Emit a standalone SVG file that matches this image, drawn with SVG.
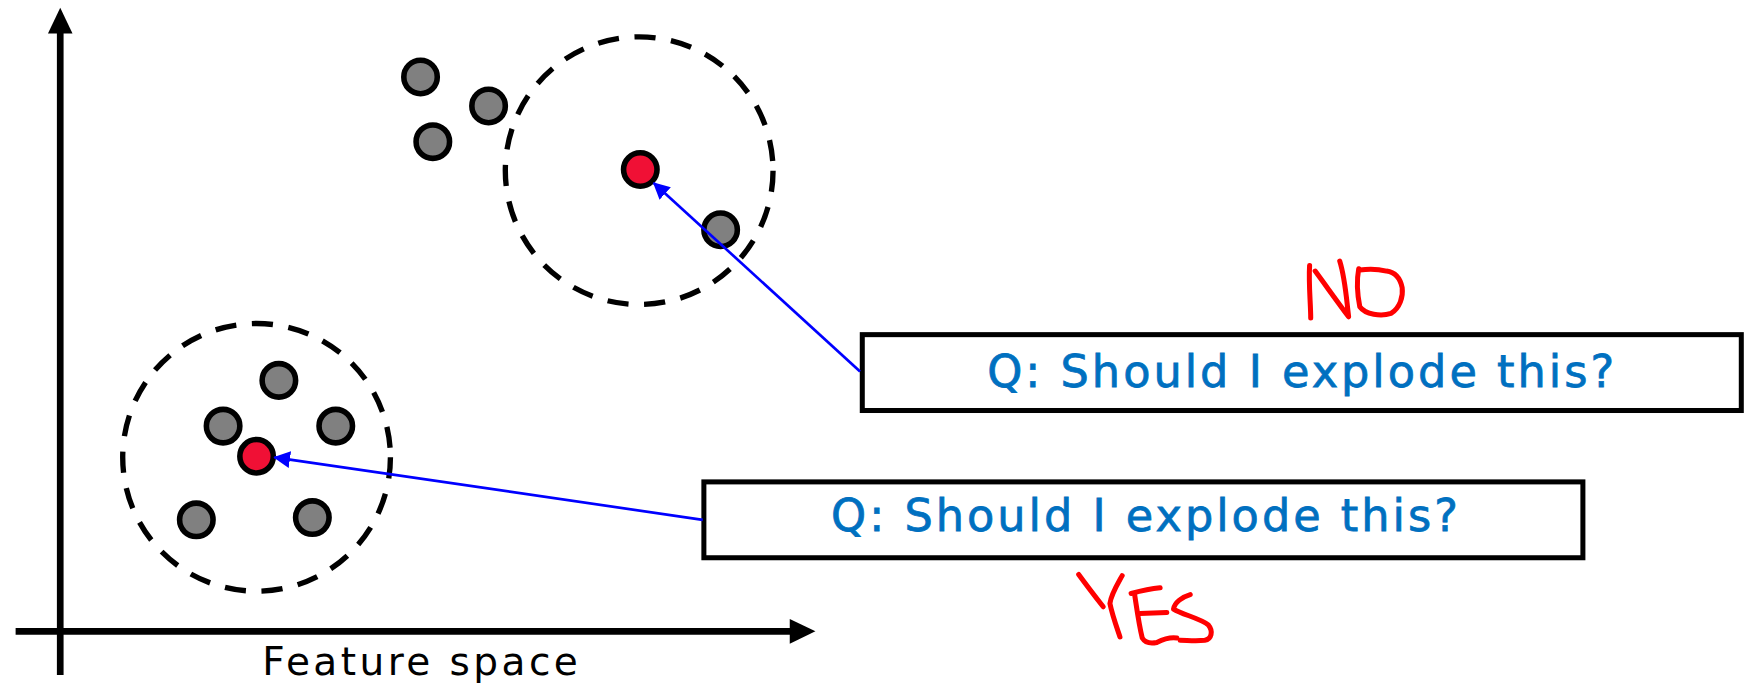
<svg xmlns="http://www.w3.org/2000/svg" width="1751" height="684" viewBox="0 0 1751 684">
<style>
.pt{fill:#808080;stroke:#000;stroke-width:5}
.q{fill:#F01035;stroke:#000;stroke-width:5}
.ring{fill:none;stroke:#000;stroke-width:4.8;stroke-dasharray:19 14}
.box{fill:#fff;stroke:#000;stroke-width:4.5}
.qt{font-family:"DejaVu Sans","Liberation Sans",sans-serif;font-size:40px;fill:#0070C0;stroke:#0070C0;stroke-width:0.7}
.axis{stroke:#000;stroke-width:6;fill:none}
.conn{stroke:#0000FF;stroke-width:2.4;fill:none}
.hw{fill:none;stroke:#FF0000;stroke-width:4.5;stroke-linecap:round;stroke-linejoin:round}
</style>
<defs>
<marker id="ah" markerUnits="userSpaceOnUse" markerWidth="15" markerHeight="15" viewBox="0 0 15 15" refX="14" refY="7.5" orient="auto">
<path d="M0,0 L15,7.5 L0,15 Z" fill="#0000FF"/>
</marker>
</defs>
<rect width="1751" height="684" fill="#fff"/>
<g id="diagram" transform="scale(1.1155)">
<g id="axes">
<line class="axis" x1="54" y1="28" x2="54" y2="605"/>
<polygon points="54,7 43,30 65,30" fill="#000"/>
<line class="axis" x1="14" y1="566" x2="712" y2="566"/>
<polygon points="731,566 708,555 708,577" fill="#000"/>
<text x="235" y="605" font-family="DejaVu Sans,'Liberation Sans',sans-serif" font-size="35" textLength="283" lengthAdjust="spacing" fill="#000">Feature space</text>
</g>
<g id="cluster-upper">
<circle class="ring" cx="573" cy="153" r="120"/>
<circle class="pt" cx="377" cy="69" r="15"/>
<circle class="pt" cx="438" cy="95" r="15"/>
<circle class="pt" cx="388" cy="127" r="15"/>
<circle class="pt" cx="646" cy="206" r="15"/>
<circle id="query-upper" class="q" cx="574" cy="152" r="15"/>
</g>
<g id="cluster-lower">
<circle class="ring" cx="230" cy="410" r="120"/>
<circle class="pt" cx="250" cy="341" r="15"/>
<circle class="pt" cx="200" cy="382" r="15"/>
<circle class="pt" cx="301" cy="382" r="15"/>
<circle class="pt" cx="176" cy="466" r="15"/>
<circle class="pt" cx="280" cy="464" r="15"/>
<circle id="query-lower" class="q" cx="230" cy="409" r="15"/>
</g>
<g id="box-upper">
<rect class="box" x="773" y="300" width="788" height="68"/>
<text class="qt" x="885" y="347" textLength="562" lengthAdjust="spacing">Q: Should I explode this?</text>
</g>
<g id="box-lower">
<rect class="box" x="631" y="432" width="788" height="68"/>
<text class="qt" x="745" y="476" textLength="562" lengthAdjust="spacing">Q: Should I explode this?</text>
</g>
<g id="connectors">
<line class="conn" x1="771" y1="333" x2="586" y2="164" marker-end="url(#ah)"/>
<line class="conn" x1="630" y1="466" x2="246" y2="410" marker-end="url(#ah)"/>
</g>
<g id="label-no">
<path class="hw" d="M1174,238 C1173,255 1175,272 1175,285"/>
<path class="hw" d="M1179,243 C1190,258 1200,272 1209,284 C1207,268 1206,250 1201,234"/>
<path class="hw" d="M1218,241 C1216,252 1217,265 1219,275 C1224,282 1238,284 1247,281 C1255,276 1258,266 1257,258 C1255,248 1250,244 1243,243 C1235,241 1226,241 1219,242"/>
</g>
<g id="label-yes">
<path class="hw" d="M967,515 C975,526 982,535 989,544"/>
<path class="hw" d="M1006,516 C1001,525 996,533 995,541 C997,551 1001,562 1004,571"/>
<path class="hw" d="M1014,532 C1022,530 1031,528 1040,527"/>
<path class="hw" d="M1017,532 C1019,545 1021,560 1024,572 C1027,577 1032,577 1037,576 C1043,573 1048,571 1055,572"/>
<path class="hw" d="M1022,550 L1046,549"/>
<path class="hw" d="M1067,533 C1060,535 1053,540 1052,546 C1060,551 1075,554 1083,560 C1088,566 1086,573 1080,574 C1072,575 1064,574 1058,574"/>
</g>
</g>
</svg>
